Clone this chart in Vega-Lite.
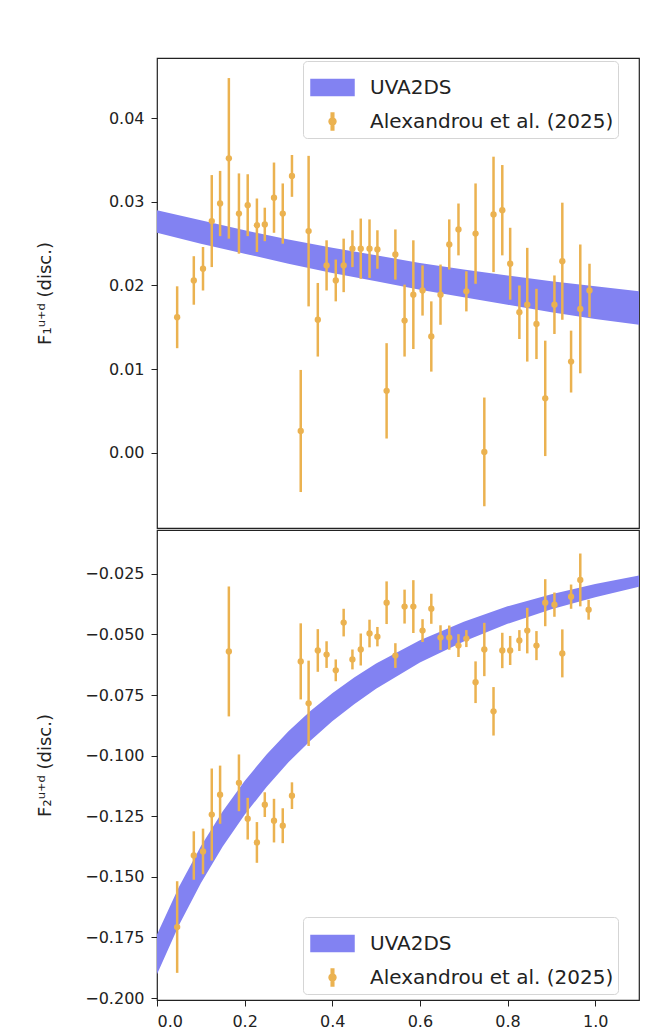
{
  "$schema": "https://vega.github.io/schema/vega-lite/v6.json",
  "padding": {"left": 35, "top": 57, "right": 22, "bottom": 5},
  "background": "white",
  "spacing": 0,
  "config": {
    "font": "DejaVu Sans",
    "view": {"stroke": "#222", "strokeWidth": 1.2},
    "axis": {"labelFont": "DejaVu Sans", "labelFontSize": 16, "labelColor": "#222", "tickColor": "#222", "tickSize": 6, "domain": false, "grid": false, "titleFont": "DejaVu Sans", "titleFontWeight": "normal", "titleFontSize": 18, "titleColor": "#222", "labelPadding": 7},
    "legend": {"title": null, "labelFont": "DejaVu Sans", "labelFontSize": 20, "labelColor": "#222", "labelLimit": 400, "symbolSize": 1849, "fillColor": "white", "strokeColor": "#d5d5d5", "cornerRadius": 4, "padding": 4, "rowPadding": -2, "symbolOffset": 3, "labelOffset": 15}
  },
  "datasets": {
    "band1": [
      {"x": 0.0, "lo": 0.0263, "hi": 0.0290},
      {"x": 0.1, "lo": 0.0250, "hi": 0.0278},
      {"x": 0.2, "lo": 0.0238, "hi": 0.0266},
      {"x": 0.3, "lo": 0.0226, "hi": 0.0255},
      {"x": 0.4, "lo": 0.0215, "hi": 0.0245},
      {"x": 0.5, "lo": 0.0205, "hi": 0.0236},
      {"x": 0.6, "lo": 0.0195, "hi": 0.0227},
      {"x": 0.7, "lo": 0.0186, "hi": 0.0219},
      {"x": 0.8, "lo": 0.0177, "hi": 0.0212},
      {"x": 0.9, "lo": 0.0168, "hi": 0.0205},
      {"x": 1.0, "lo": 0.0160, "hi": 0.0199},
      {"x": 1.1, "lo": 0.0153, "hi": 0.0193}
    ],
    "band2": [
      {"x": 0.0, "lo": -0.1902, "hi": -0.1738},
      {"x": 0.05, "lo": -0.1700, "hi": -0.1542},
      {"x": 0.1, "lo": -0.1526, "hi": -0.1374},
      {"x": 0.15, "lo": -0.1375, "hi": -0.1229},
      {"x": 0.2, "lo": -0.1244, "hi": -0.1104},
      {"x": 0.25, "lo": -0.1129, "hi": -0.0995},
      {"x": 0.3, "lo": -0.1027, "hi": -0.0899},
      {"x": 0.35, "lo": -0.0938, "hi": -0.0816},
      {"x": 0.4, "lo": -0.0858, "hi": -0.0742},
      {"x": 0.45, "lo": -0.0788, "hi": -0.0678},
      {"x": 0.5, "lo": -0.0724, "hi": -0.0620},
      {"x": 0.6, "lo": -0.0616, "hi": -0.0524},
      {"x": 0.7, "lo": -0.0529, "hi": -0.0447},
      {"x": 0.8, "lo": -0.0456, "hi": -0.0384},
      {"x": 0.9, "lo": -0.0396, "hi": -0.0334},
      {"x": 1.0, "lo": -0.0346, "hi": -0.0292},
      {"x": 1.1, "lo": -0.0303, "hi": -0.0257}
    ],
    "pts1": [
      {"x": 0.046, "y": 0.0162, "lo": 0.0125, "hi": 0.0199},
      {"x": 0.084, "y": 0.0206, "lo": 0.0177, "hi": 0.0235},
      {"x": 0.105, "y": 0.0220, "lo": 0.0194, "hi": 0.0246},
      {"x": 0.125, "y": 0.0277, "lo": 0.0222, "hi": 0.0332},
      {"x": 0.144, "y": 0.0298, "lo": 0.0259, "hi": 0.0337},
      {"x": 0.164, "y": 0.0352, "lo": 0.0256, "hi": 0.0448},
      {"x": 0.187, "y": 0.0286, "lo": 0.0238, "hi": 0.0334},
      {"x": 0.207, "y": 0.0296, "lo": 0.0259, "hi": 0.0333},
      {"x": 0.228, "y": 0.0272, "lo": 0.0240, "hi": 0.0304},
      {"x": 0.246, "y": 0.0273, "lo": 0.0253, "hi": 0.0293},
      {"x": 0.267, "y": 0.0305, "lo": 0.0263, "hi": 0.0347},
      {"x": 0.287, "y": 0.0286, "lo": 0.0250, "hi": 0.0322},
      {"x": 0.308, "y": 0.0331, "lo": 0.0306, "hi": 0.0356},
      {"x": 0.328, "y": 0.0026, "lo": -0.0047, "hi": 0.0099},
      {"x": 0.346, "y": 0.0265, "lo": 0.0175, "hi": 0.0355},
      {"x": 0.367, "y": 0.0159, "lo": 0.0115, "hi": 0.0203},
      {"x": 0.387, "y": 0.0224, "lo": 0.0194, "hi": 0.0254},
      {"x": 0.408, "y": 0.0206, "lo": 0.0181, "hi": 0.0231},
      {"x": 0.426, "y": 0.0224, "lo": 0.0192, "hi": 0.0256},
      {"x": 0.446, "y": 0.0244, "lo": 0.0222, "hi": 0.0266},
      {"x": 0.465, "y": 0.0244, "lo": 0.0208, "hi": 0.0280},
      {"x": 0.485, "y": 0.0244, "lo": 0.0209, "hi": 0.0279},
      {"x": 0.503, "y": 0.0243, "lo": 0.0220, "hi": 0.0266},
      {"x": 0.524, "y": 0.0074, "lo": 0.0017, "hi": 0.0131},
      {"x": 0.544, "y": 0.0237, "lo": 0.0207, "hi": 0.0267},
      {"x": 0.565, "y": 0.0158, "lo": 0.0115, "hi": 0.0201},
      {"x": 0.585, "y": 0.0189, "lo": 0.0124, "hi": 0.0254},
      {"x": 0.606, "y": 0.0194, "lo": 0.0164, "hi": 0.0224},
      {"x": 0.626, "y": 0.0139, "lo": 0.0097, "hi": 0.0181},
      {"x": 0.647, "y": 0.0189, "lo": 0.0153, "hi": 0.0225},
      {"x": 0.667, "y": 0.0249, "lo": 0.0219, "hi": 0.0279},
      {"x": 0.688, "y": 0.0267, "lo": 0.0236, "hi": 0.0298},
      {"x": 0.706, "y": 0.0193, "lo": 0.0169, "hi": 0.0217},
      {"x": 0.727, "y": 0.0262, "lo": 0.0202, "hi": 0.0322},
      {"x": 0.747, "y": 0.0001, "lo": -0.0064, "hi": 0.0066},
      {"x": 0.768, "y": 0.0285, "lo": 0.0216, "hi": 0.0354},
      {"x": 0.788, "y": 0.0290, "lo": 0.0236, "hi": 0.0344},
      {"x": 0.806, "y": 0.0226, "lo": 0.0183, "hi": 0.0269},
      {"x": 0.827, "y": 0.0168, "lo": 0.0136, "hi": 0.0200},
      {"x": 0.845, "y": 0.0177, "lo": 0.0109, "hi": 0.0245},
      {"x": 0.866, "y": 0.0154, "lo": 0.0112, "hi": 0.0196},
      {"x": 0.886, "y": 0.0065, "lo": -0.0004, "hi": 0.0134},
      {"x": 0.907, "y": 0.0177, "lo": 0.0142, "hi": 0.0212},
      {"x": 0.925, "y": 0.0229, "lo": 0.0159, "hi": 0.0299},
      {"x": 0.945, "y": 0.0109, "lo": 0.0072, "hi": 0.0146},
      {"x": 0.966, "y": 0.0172, "lo": 0.0095, "hi": 0.0249},
      {"x": 0.987, "y": 0.0194, "lo": 0.0162, "hi": 0.0226}
    ],
    "pts2": [
      {"x": 0.046, "y": -0.1707, "lo": -0.1896, "hi": -0.1518},
      {"x": 0.084, "y": -0.1412, "lo": -0.1512, "hi": -0.1312},
      {"x": 0.105, "y": -0.1395, "lo": -0.1489, "hi": -0.1301},
      {"x": 0.125, "y": -0.1243, "lo": -0.1433, "hi": -0.1053},
      {"x": 0.144, "y": -0.1161, "lo": -0.1281, "hi": -0.1041},
      {"x": 0.164, "y": -0.0570, "lo": -0.0838, "hi": -0.0302},
      {"x": 0.187, "y": -0.1112, "lo": -0.1229, "hi": -0.0995},
      {"x": 0.207, "y": -0.1260, "lo": -0.1346, "hi": -0.1174},
      {"x": 0.228, "y": -0.1358, "lo": -0.1442, "hi": -0.1274},
      {"x": 0.246, "y": -0.1202, "lo": -0.1253, "hi": -0.1151},
      {"x": 0.267, "y": -0.1268, "lo": -0.1358, "hi": -0.1178},
      {"x": 0.287, "y": -0.1289, "lo": -0.1361, "hi": -0.1217},
      {"x": 0.308, "y": -0.1165, "lo": -0.1220, "hi": -0.1110},
      {"x": 0.328, "y": -0.0611, "lo": -0.0768, "hi": -0.0454},
      {"x": 0.346, "y": -0.0784, "lo": -0.0960, "hi": -0.0608},
      {"x": 0.367, "y": -0.0566, "lo": -0.0654, "hi": -0.0478},
      {"x": 0.387, "y": -0.0583, "lo": -0.0638, "hi": -0.0528},
      {"x": 0.408, "y": -0.0648, "lo": -0.0693, "hi": -0.0603},
      {"x": 0.426, "y": -0.0451, "lo": -0.0508, "hi": -0.0394},
      {"x": 0.446, "y": -0.0603, "lo": -0.0644, "hi": -0.0562},
      {"x": 0.465, "y": -0.0562, "lo": -0.0628, "hi": -0.0496},
      {"x": 0.485, "y": -0.0496, "lo": -0.0553, "hi": -0.0439},
      {"x": 0.503, "y": -0.0509, "lo": -0.0549, "hi": -0.0469},
      {"x": 0.524, "y": -0.0369, "lo": -0.0457, "hi": -0.0281},
      {"x": 0.544, "y": -0.0587, "lo": -0.0638, "hi": -0.0536},
      {"x": 0.565, "y": -0.0385, "lo": -0.0455, "hi": -0.0315},
      {"x": 0.585, "y": -0.0385, "lo": -0.0494, "hi": -0.0276},
      {"x": 0.606, "y": -0.0484, "lo": -0.0531, "hi": -0.0437},
      {"x": 0.626, "y": -0.0394, "lo": -0.0456, "hi": -0.0332},
      {"x": 0.647, "y": -0.0513, "lo": -0.0564, "hi": -0.0462},
      {"x": 0.667, "y": -0.0513, "lo": -0.0563, "hi": -0.0463},
      {"x": 0.688, "y": -0.0546, "lo": -0.0593, "hi": -0.0499},
      {"x": 0.706, "y": -0.0517, "lo": -0.0552, "hi": -0.0482},
      {"x": 0.727, "y": -0.0697, "lo": -0.0783, "hi": -0.0611},
      {"x": 0.747, "y": -0.0562, "lo": -0.0672, "hi": -0.0452},
      {"x": 0.768, "y": -0.0817, "lo": -0.0917, "hi": -0.0717},
      {"x": 0.788, "y": -0.0566, "lo": -0.0639, "hi": -0.0493},
      {"x": 0.806, "y": -0.0566, "lo": -0.0626, "hi": -0.0506},
      {"x": 0.827, "y": -0.0525, "lo": -0.0568, "hi": -0.0482},
      {"x": 0.845, "y": -0.0484, "lo": -0.0578, "hi": -0.0390},
      {"x": 0.866, "y": -0.0546, "lo": -0.0606, "hi": -0.0486},
      {"x": 0.886, "y": -0.0369, "lo": -0.0466, "hi": -0.0272},
      {"x": 0.907, "y": -0.0377, "lo": -0.0427, "hi": -0.0327},
      {"x": 0.925, "y": -0.0578, "lo": -0.0677, "hi": -0.0479},
      {"x": 0.945, "y": -0.0344, "lo": -0.0394, "hi": -0.0294},
      {"x": 0.966, "y": -0.0275, "lo": -0.0384, "hi": -0.0166},
      {"x": 0.985, "y": -0.0398, "lo": -0.0439, "hi": -0.0357}
    ]
  },
  "resolve": {"scale": {"color": "independent"}, "legend": {"color": "independent"}},
  "vconcat": [
    {
      "width": 482,
      "height": 470,
      "layer": [
        {
          "data": {"name": "band1"},
          "mark": {"type": "area", "opacity": 1},
          "encoding": {
            "x": {"field": "x", "type": "quantitative", "scale": {"domain": [0, 1.1], "nice": false, "zero": false}, "axis": null},
            "y": {"field": "lo", "type": "quantitative", "scale": {"domain": [-0.009, 0.0472], "nice": false, "zero": false},
              "axis": {"title": "F₁ᵘ⁺ᵈ (disc.)", "values": [0, 0.01, 0.02, 0.03, 0.04], "format": ".2f", "titleX": -112, "titleY": 235, "titleAngle": -90, "titleAlign": "center", "titleBaseline": "middle"}},
            "y2": {"field": "hi"},
            "color": {"datum": "UVA2DS", "scale": {"domain": ["UVA2DS", "Alexandrou et al. (2025)"], "range": ["#8282f2", "#ebb250"]},
              "legend": {"orient": "none", "legendX": 146, "legendY": 3,
                "symbolType": {"expr": "datum.value === 'UVA2DS' ? 'M-1,-0.37H1V0.37H-1Z' : 'M-0.06,-0.4H0.06V-0.12H-0.06Z M-0.06,0.12H0.06V0.4H-0.06Z M-0.16,0A0.16,0.16 0 1,0 0.16,0A0.16,0.16 0 1,0 -0.16,0Z'"}}}
          }
        },
        {
          "data": {"name": "pts1"},
          "mark": {"type": "rule", "strokeWidth": 2.5},
          "encoding": {
            "x": {"field": "x", "type": "quantitative"},
            "y": {"field": "lo", "type": "quantitative"},
            "y2": {"field": "hi"},
            "color": {"datum": "Alexandrou et al. (2025)"}
          }
        },
        {
          "data": {"name": "pts1"},
          "mark": {"type": "circle", "size": 40, "opacity": 1},
          "encoding": {
            "x": {"field": "x", "type": "quantitative"},
            "y": {"field": "y", "type": "quantitative"},
            "color": {"datum": "Alexandrou et al. (2025)"}
          }
        }
      ]
    },
    {
      "width": 482,
      "height": 470,
      "layer": [
        {
          "data": {"name": "band2"},
          "mark": {"type": "area", "opacity": 1},
          "encoding": {
            "x": {"field": "x", "type": "quantitative", "scale": {"domain": [0, 1.1], "nice": false, "zero": false},
              "axis": {"title": null, "values": [0, 0.2, 0.4, 0.6, 0.8, 1.0], "format": ".1f"}},
            "y": {"field": "lo", "type": "quantitative", "scale": {"domain": [-0.2008, -0.0069], "nice": false, "zero": false},
              "axis": {"title": "F₂ᵘ⁺ᵈ (disc.)", "values": [-0.2, -0.175, -0.15, -0.125, -0.1, -0.075, -0.05, -0.025], "format": ".3f", "titleX": -112, "titleY": 235, "titleAngle": -90, "titleAlign": "center", "titleBaseline": "middle"}},
            "y2": {"field": "hi"},
            "color": {"datum": "UVA2DS", "scale": {"domain": ["UVA2DS", "Alexandrou et al. (2025)"], "range": ["#8282f2", "#ebb250"]},
              "legend": {"orient": "none", "legendX": 146, "legendY": 387,
                "symbolType": {"expr": "datum.value === 'UVA2DS' ? 'M-1,-0.37H1V0.37H-1Z' : 'M-0.06,-0.4H0.06V-0.12H-0.06Z M-0.06,0.12H0.06V0.4H-0.06Z M-0.16,0A0.16,0.16 0 1,0 0.16,0A0.16,0.16 0 1,0 -0.16,0Z'"}}}
          }
        },
        {
          "data": {"name": "pts2"},
          "mark": {"type": "rule", "strokeWidth": 2.5},
          "encoding": {
            "x": {"field": "x", "type": "quantitative"},
            "y": {"field": "lo", "type": "quantitative"},
            "y2": {"field": "hi"},
            "color": {"datum": "Alexandrou et al. (2025)"}
          }
        },
        {
          "data": {"name": "pts2"},
          "mark": {"type": "circle", "size": 40, "opacity": 1},
          "encoding": {
            "x": {"field": "x", "type": "quantitative"},
            "y": {"field": "y", "type": "quantitative"},
            "color": {"datum": "Alexandrou et al. (2025)"}
          }
        }
      ]
    }
  ]
}
